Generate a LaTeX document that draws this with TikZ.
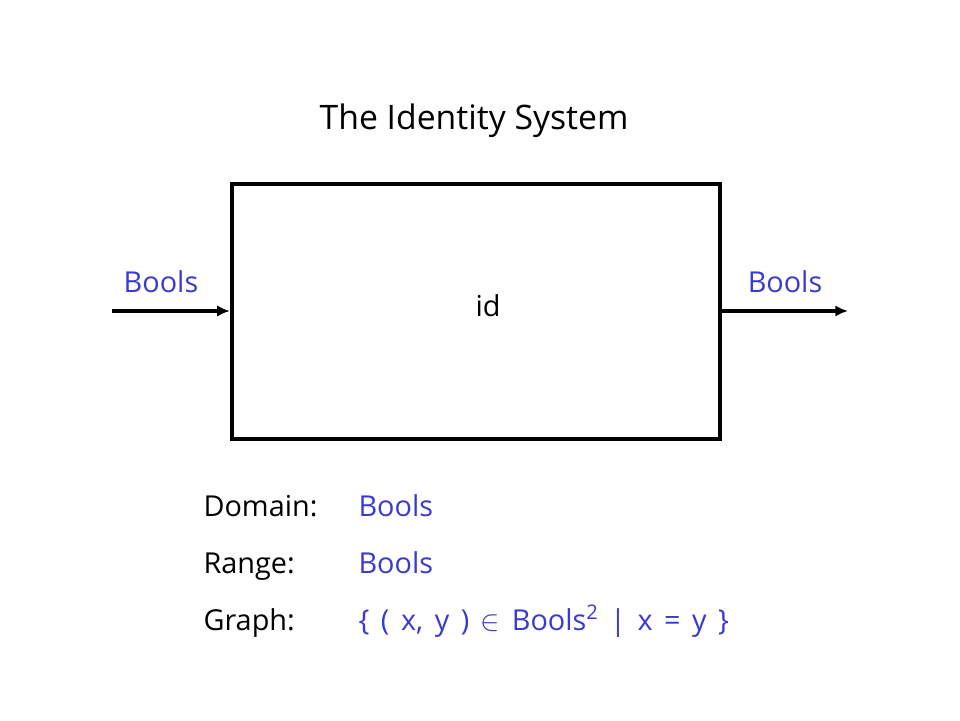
\documentclass[tikz,border=0pt]{standalone}
\usepackage{fontspec}
\setmainfont{Open Sans}
\usepackage{tikz}
\usetikzlibrary{positioning,arrows.meta}

\definecolor{boolblue}{RGB}{58,58,206}

\begin{document}
\begin{tikzpicture}[thick,
  txt/.style={font=\fontsize{20.5}{24}\selectfont, inner sep=0pt},
  typ/.style={txt, text=boolblue},
  sysbox/.style={draw, line width=3pt, minimum width=12.2cm, minimum height=6.375cm, inner sep=0pt},
  wire/.style={line width=2.4pt, -{Latex[length=9pt,width=8pt]}}]

% Page
\useasboundingbox (0,0) rectangle (24,18);

% Title
\node[txt, font=\fontsize{24}{28}\selectfont, anchor=base] (title) at (11.85,14.75) {The Identity System};

% The system
\node[sysbox] (box) at (11.9,10.2125) {};
\node[txt, anchor=base] (id) at (12.2,10.1) {id};

% Input and output
\coordinate (in) at (2.8,10.225);
\coordinate (out) at (21.2,10.225);
\draw[wire] (in) -- (in -| box.west);
\draw[wire] (box.east |- out) -- (out);
\node[typ, anchor=base] (inlabel) at (4.025,10.7) {Bools};
\node[typ, anchor=base] (outlabel) at (19.625,10.7) {Bools};

% Domain, range and graph
\node[txt, anchor=base west] (domain) at (5.075,5.1) {Domain:};
\node[txt, anchor=base west] (range) at (5.075,3.675) {Range:};
\node[txt, anchor=base west] (graph) at (5.075,2.25) {Graph:};
\node[typ, anchor=base west] (domainset) at (8.95,5.1) {Bools};
\node[typ, anchor=base west] (rangeset) at (8.95,3.675) {Bools};
\node[typ, anchor=base west] (graphset) at (8.95,2.25)
  {\spaceskip=8.2pt\relax \{ ( x, y ) $\in$ Bools\textsuperscript{2} | x = y \}};

\end{tikzpicture}
\end{document}
